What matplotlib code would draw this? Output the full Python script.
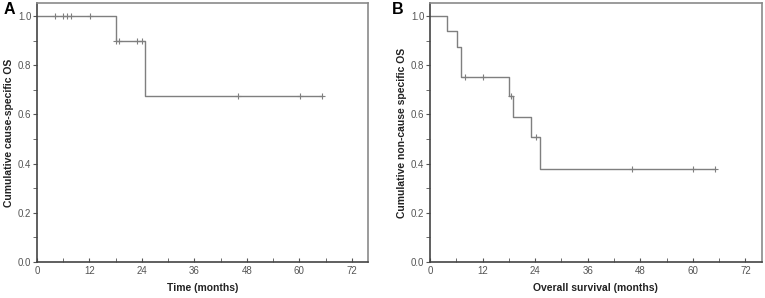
import numpy as np
import matplotlib.pyplot as plt
from matplotlib.ticker import MultipleLocator, FormatStrFormatter

plt.rcParams['font.family'] = ['Liberation Sans', 'DejaVu Sans']

# panel A: cause-specific OS
a_time = [0, 18.0, 24.8, 65.1]
a_surv = [1.0, 0.9, 0.675, 0.675]
a_cens_t = [4.0, 5.9, 6.8, 7.7, 12.1, 18.1, 18.8, 22.9, 23.9, 46.0, 60.2, 65.1]
a_cens_s = [1.0, 1.0, 1.0, 1.0, 1.0, 0.9, 0.9, 0.9, 0.9, 0.675, 0.675, 0.675]

# panel B: non-cause specific OS
b_time = [0, 4.0, 6.1, 7.2, 18.1, 19.0, 23.0, 25.0, 65.0]
b_surv = [1.0, 0.9375, 0.875, 0.75, 0.675, 0.5906, 0.5062, 0.3797, 0.3797]
b_cens_t = [8.0, 12.0, 18.5, 24.2, 46.1, 60.0, 65.0]
b_cens_s = [0.75, 0.75, 0.675, 0.5062, 0.3797, 0.3797, 0.3797]

xticks = [0, 12, 24, 36, 48, 60, 72]

line_c = '#7f7f7f'
text_c = '#555555'


def km_panel(ax, t, s, ct, cs, xlabel, ylabel, letter, lx):
    ax.step(t, s, where='post', color=line_c, lw=1.0)
    ax.plot(ct, cs, ls='none', marker='+', ms=5, mew=0.8, color=line_c)
    ax.set_xlim(0, 75.7)
    ax.set_ylim(0, 1.053)
    ax.set_xticks(xticks)
    ax.xaxis.set_minor_locator(MultipleLocator(6))
    ax.yaxis.set_major_locator(MultipleLocator(0.2))
    ax.yaxis.set_minor_locator(MultipleLocator(0.1))
    ax.yaxis.set_major_formatter(FormatStrFormatter('%.1f'))
    ax.tick_params(axis='x', which='both', direction='in', length=3,
                   color='#555555', labelsize=7, labelcolor=text_c, pad=3)
    ax.tick_params(axis='y', which='both', direction='out', length=3,
                   color='#555555', labelsize=7, labelcolor=text_c, pad=1)
    for sp in ax.spines.values():
        sp.set_color('#8a8a8a')
        sp.set_linewidth(1.2)
    ax.spines['left'].set_color('#444444')
    ax.spines['bottom'].set_color('#444444')
    ax.set_xlabel(xlabel, fontsize=7.5, fontweight='bold', color='#222222', labelpad=5)
    ax.set_ylabel(ylabel, fontsize=7.5, fontweight='bold', color='#222222', labelpad=3)
    ax.text(lx, 0.975, letter, transform=ax.transAxes, fontsize=11.5,
            fontweight='bold', ha='center', va='center')


def main():
    fig = plt.figure(figsize=(7.65, 2.98), dpi=100)
    ax1 = fig.add_axes([0.0484, 0.121, 0.4326, 0.869])
    ax2 = fig.add_axes([0.562, 0.121, 0.4337, 0.869])

    km_panel(ax1, a_time, a_surv, a_cens_t, a_cens_s,
             'Time (months)', 'Cumulative cause-specific OS', 'A', -0.084)
    km_panel(ax2, b_time, b_surv, b_cens_t, b_cens_s,
             'Overall survival (months)', 'Cumulative non-cause specific OS', 'B', -0.096)

    fig.savefig('out.png', dpi=100)
    plt.close()


if __name__ == "__main__":
    main()
